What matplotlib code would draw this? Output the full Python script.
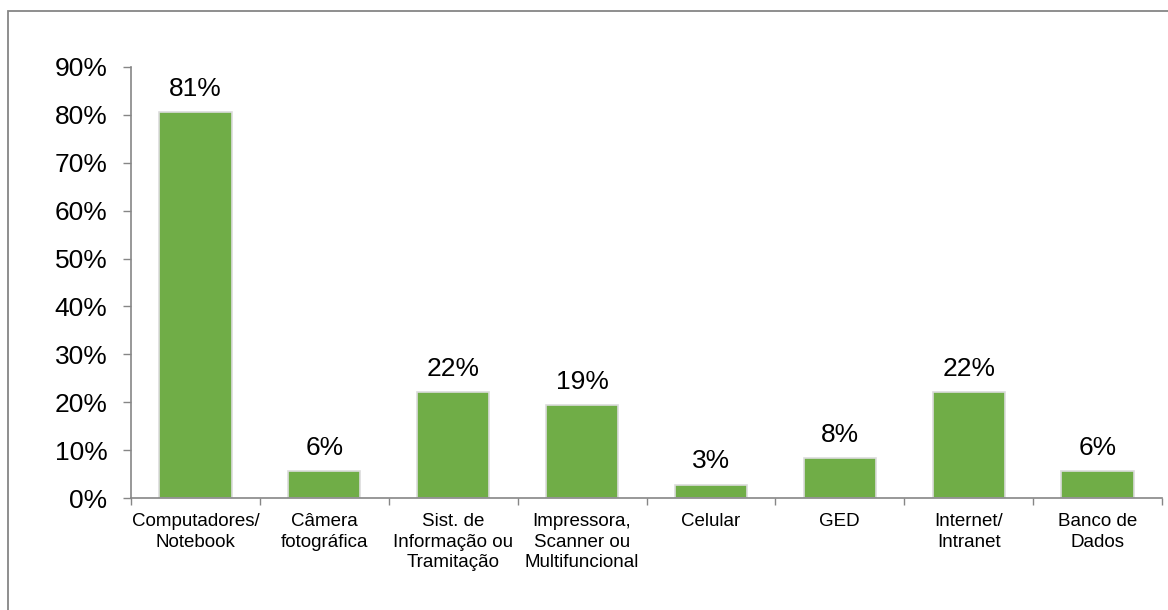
import matplotlib.pyplot as plt
from matplotlib.patches import Rectangle

plt.rcParams['font.family'] = ['Liberation Sans', 'DejaVu Sans']

categorias = ['Computadores/\nNotebook', 'Câmera\nfotográfica', 'Sist. de\nInformação ou\nTramitação',
              'Impressora,\nScanner ou\nMultifuncional', 'Celular', 'GED', 'Internet/\nIntranet',
              'Banco de\nDados']
valores = [80.6, 5.6, 22.2, 19.4, 2.8, 8.3, 22.2, 5.6]
yticks = [0, 10, 20, 30, 40, 50, 60, 70, 80, 90]

verde = '#70AD47'
cinza = '#868686'

fig = plt.figure(figsize=(11.68, 6.10), dpi=100)
# moldura do gráfico
fig.patches.append(Rectangle((8 / 1168, -0.05), 1.2, (610 - 11) / 610 + 0.05,
                             transform=fig.transFigure, fill=False,
                             edgecolor=cinza, linewidth=1.3))

ax = fig.add_axes([131 / 1168, 112 / 610, (1162 - 131) / 1168, (498 - 67) / 610])

x = range(len(categorias))
barras = ax.bar(x, valores, width=0.56, color=verde, edgecolor='#dcdcdc', linewidth=1.2)

for b, v in zip(barras, valores):
    ax.annotate(f'{v:.0f}%', (b.get_x() + b.get_width() / 2, v), xytext=(0, 8),
                textcoords='offset points', ha='center', va='bottom', fontsize=19)

ax.set_xlim(-0.5, len(categorias) - 0.5)
ax.set_ylim(0, 90)
ax.set_yticks(yticks)
ax.set_yticklabels([f'{t}%' for t in yticks], fontsize=19)

ax.set_xticks([i + 0.5 for i in range(-1, len(categorias))])
ax.set_xticklabels([])
ax.set_xticks(list(x), minor=True)
ax.set_xticklabels(categorias, minor=True, fontsize=13.5, linespacing=1.25, va='top')
ax.tick_params(axis='x', which='minor', length=0, pad=11)
ax.tick_params(axis='x', which='major', length=5, color=cinza, width=1)
ax.tick_params(axis='y', length=6, color=cinza, width=1, pad=11)

for s in ['top', 'right']:
    ax.spines[s].set_visible(False)
for s in ['left', 'bottom']:
    ax.spines[s].set_color(cinza)
    ax.spines[s].set_linewidth(1.2)

fig.savefig('out.png', dpi=100)
